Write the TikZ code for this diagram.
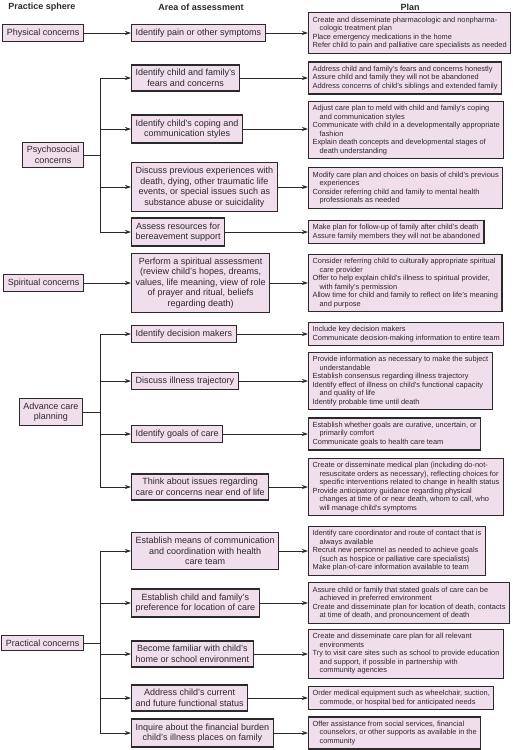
\documentclass[tikz,border=0pt]{standalone}
\usepackage{fontspec}
\setmainfont{Liberation Sans}
\usetikzlibrary{arrows.meta, positioning}
\definecolor{BoxPink}{HTML}{F0DEEC}
\definecolor{Ink}{HTML}{2A2A2A}
\newcommand{\ind}{\hspace*{7pt}}
\tikzset{
  hdr/.style={font=\fontsize{9}{10.5}\selectfont\bfseries, text=Ink},
  sphere/.style={draw=Ink, line width=1.2pt, fill=BoxPink, align=center,
                 anchor=east, inner xsep=4pt, inner ysep=4pt,
                 font=\fontsize{9}{10.5}\selectfont, text=Ink},
  area/.style={draw=Ink, line width=1.2pt, fill=BoxPink, align=center,
               anchor=west, inner xsep=4pt, inner ysep=4.5pt,
               font=\fontsize{9}{10.5}\selectfont, text=Ink},
  plan/.style={draw=Ink, line width=1.2pt, fill=BoxPink, align=left,
               anchor=west, inner xsep=4pt, inner ysep=4pt,
               font=\fontsize{7.4}{8.5}\selectfont, text=Ink},
  flowarrow/.style={-{Stealth[length=6pt, width=4pt]}, line width=0.8pt,
                    draw=Ink},
}

\begin{document}
\begin{tikzpicture}[x=1pt, y=-1pt]
    \useasboundingbox (0,0) rectangle (513,750);
    % column headings
    \node[hdr] (hdrsphere) at (42, 7) {Practice sphere};
    \node[hdr] (hdrarea) at (201, 7) {Area of assessment};
    \node[hdr] (hdrplan) at (410, 7) {Plan};

    % practice spheres
    \node[sphere] (phys) at (84, 33) {Physical concerns};
    \node[sphere] (psych) at (84, 155) {Psychosocial\\concerns};
    \node[sphere] (spirit) at (84, 283) {Spiritual concerns};
    \node[sphere] (adv) at (83, 412) {Advance care\\planning};
    \node[sphere] (pract) at (84, 643) {Practical concerns};

    % areas of assessment
    \node[area] (pain) at (131, 33) {Identify pain or other symptoms};
    \node[area] (fears) at (131, 78) {Identify child and family's\\fears and concerns};
    \node[area] (coping) at (131, 129) {Identify child's coping and\\communication styles};
    \node[area] (prevexp) at (131, 187)
      {Discuss previous experiences with\\death, dying, other traumatic life\\
       events, or special issues such as\\substance abuse or suicidality};
    \node[area] (bereave) at (131, 232) {Assess resources for\\bereavement support};
    \node[area] (spiritass) at (131, 283)
      {Perform a spiritual assessment\\(review child's hopes, dreams,\\
       values, life meaning, view of role\\of prayer and ritual, beliefs\\regarding death)};
    \node[area] (decide) at (131, 334) {Identify decision makers};
    \node[area] (traj) at (131, 381) {Discuss illness trajectory};
    \node[area] (goals) at (131, 434) {Identify goals of care};
    \node[area] (endlife) at (131, 487) {Think about issues regarding\\care or concerns near end of life};
    \node[area] (commun) at (131, 551)
      {Establish means of communication\\and coordination with health\\care team};
    \node[area] (locat) at (131, 603) {Establish child and family's\\preference for location of care};
    \node[area] (famil) at (131, 654) {Become familiar with child's\\home or school environment};
    \node[area] (funct) at (131, 698) {Address child's current\\and future functional status};
    \node[area] (finan) at (131, 733) {Inquire about the financial burden\\child's illness places on family};

    % plans
    \node[plan] (planpain) at (308, 33)
      {Create and disseminate pharmacologic and nonpharma-\\
       \ind cologic treatment plan\\
       Place emergency medications in the home\\
       Refer child to pain and palliative care specialists as needed};
    \node[plan] (planfears) at (308, 78)
      {Address child and family's fears and concerns honestly\\
       Assure child and family they will not be abandoned\\
       Address concerns of child's siblings and extended family};
    \node[plan] (plancoping) at (308, 130)
      {Adjust care plan to meld with child and family's coping\\
       \ind and communication styles\\
       Communicate with child in a developmentally appropriate\\
       \ind fashion\\
       Explain death concepts and developmental stages of\\
       \ind death understanding};
    \node[plan] (planprevexp) at (308, 188)
      {Modify care plan and choices on basis of child's previous\\
       \ind experiences\\
       Consider referring child and family to mental health\\
       \ind professionals as needed};
    \node[plan] (planbereave) at (308, 232)
      {Make plan for follow-up of family after child's death\\
       Assure family members they will not be abandoned};
    \node[plan] (planspirit) at (308, 283)
      {Consider referring child to culturally appropriate spiritual\\
       \ind care provider\\
       Offer to help explain child's illness to spiritual provider,\\
       \ind with family's permission\\
       Allow time for child and family to reflect on life's meaning\\
       \ind and purpose};
    \node[plan] (plandecide) at (308, 334)
      {Include key decision makers\\
       Communicate decision-making information to entire team};
    \node[plan] (plantraj) at (308, 381)
      {Provide information as necessary to make the subject\\
       \ind understandable\\
       Establish consensus regarding illness trajectory\\
       Identify effect of illness on child's functional capacity\\
       \ind and quality of life\\
       Identify probable time until death};
    \node[plan] (plangoals) at (308, 434)
      {Establish whether goals are curative, uncertain, or\\
       \ind primarily comfort\\
       Communicate goals to health care team};
    \node[plan] (planendlife) at (308, 487)
      {Create or disseminate medical plan (including do-not-\\
       \ind resuscitate orders as necessary), reflecting choices for\\
       \ind specific interventions related to change in health status\\
       Provide anticipatory guidance regarding physical\\
       \ind changes at time of or near death, whom to call, who\\
       \ind will manage child's symptoms};
    \node[plan] (plancommun) at (308, 551)
      {Identify care coordinator and route of contact that is\\
       \ind always available\\
       Recruit new personnel as needed to achieve goals\\
       \ind (such as hospice or palliative care specialists)\\
       Make plan-of-care information available to team};
    \node[plan] (planlocat) at (308, 603)
      {Assure child or family that stated goals of care can be\\
       \ind achieved in preferred environment\\
       Create and disseminate plan for location of death, contacts\\
       \ind at time of death, and pronouncement of death};
    \node[plan] (planfamil) at (308, 654)
      {Create and disseminate care plan for all relevant\\
       \ind environments\\
       Try to visit care sites such as school to provide education\\
       \ind and support, if possible in partnership with\\
       \ind community agencies};
    \node[plan] (planfunct) at (308, 698)
      {Order medical equipment such as wheelchair, suction,\\
       \ind commode, or hospital bed for anticipated needs};
    \node[plan] (planfinan) at (308, 733)
      {Offer assistance from social services, financial\\
       \ind counselors, or other supports as available in the\\
       \ind community};

    % sphere to area connectors
    \draw[flowarrow] (phys.east) -- (pain.west);
    \draw[flowarrow] (spirit.east) -- (spiritass.west);
    \foreach \t in {fears, coping, prevexp, bereave}
      \draw[flowarrow] (psych.east) -- ++(16,0) |- (\t.west);
    \foreach \t in {decide, traj, goals, endlife}
      \draw[flowarrow] (adv.east) -- ++(17,0) |- (\t.west);
    \foreach \t in {commun, locat, famil, funct, finan}
      \draw[flowarrow] (pract.east) -- ++(16,0) |- (\t.west);

    % area to plan connectors
    \foreach \a/\p in {pain/planpain, fears/planfears, coping/plancoping,
                       prevexp/planprevexp, bereave/planbereave,
                       spiritass/planspirit, decide/plandecide, traj/plantraj,
                       goals/plangoals, endlife/planendlife,
                       commun/plancommun, locat/planlocat, famil/planfamil,
                       funct/planfunct, finan/planfinan}
      \draw[flowarrow] (\a.east) -- (\a.east -| \p.west);
  \end{tikzpicture}
\end{document}
